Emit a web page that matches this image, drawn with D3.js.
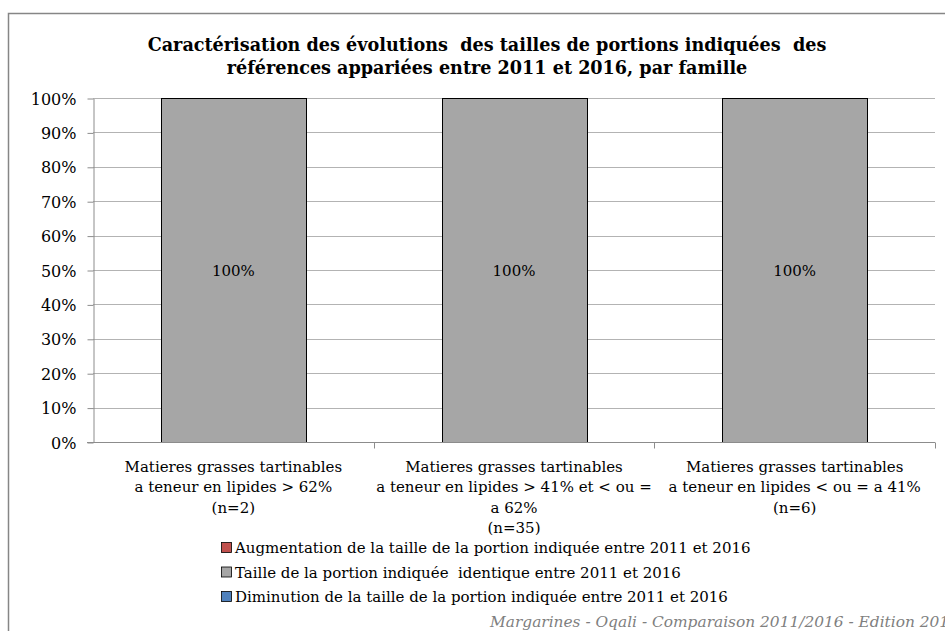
<!DOCTYPE html>
<html>
<head>
<meta charset="utf-8">
<script src="https://cdn.jsdelivr.net/npm/d3@7"></script>
<style>
  body { margin: 0; background: #fff; }
  svg { display: block; }
  text { white-space: pre; }
</style>
</head>
<body>
<div id="chart"></div>
<script>
// Frame dimensions
let FRAME_WIDTH = 945;
let FRAME_HEIGHT = 631;
let MARGINS = {left: 93, right: 10, top: 98, bottom: 189};

// data
const categories = ["cat1", "cat2", "cat3"];
const categoryLabels = [
    ["Matieres grasses tartinables", "a teneur en lipides > 62%", "(n=2)"],
    ["Matieres grasses tartinables", "a teneur en lipides > 41% et < ou =", "a 62%", "(n=35)"],
    ["Matieres grasses tartinables", "a teneur en lipides < ou = a 41%", "(n=6)"]
];
const seriesNames = [
    "Augmentation de la taille de la portion indiquée entre 2011 et 2016",
    "Taille de la portion indiquée  identique entre 2011 et 2016",
    "Diminution de la taille de la portion indiquée entre 2011 et 2016"
];
const augmentation = [0, 0, 0];
const identique = [100, 100, 100];
const diminution = [0, 0, 0];
const yTicks = [0, 10, 20, 30, 40, 50, 60, 70, 80, 90, 100];
const titleLines = [
    "Caractérisation des évolutions  des tailles de portions indiquées  des",
    "références appariées entre 2011 et 2016, par famille"
];
const footer = "Margarines - Oqali - Comparaison 2011/2016 - Edition 2017";

const COLORS = ["#c0504d", "#a6a6a6", "#4f81bd"];
const SERIF = "'DejaVu Serif', serif";

// build table for the stack
const table = categories.map((c, i) => ({
    cat: c, s0: augmentation[i], s1: identique[i], s2: diminution[i]
}));
const stacked = d3.stack().keys(["s0", "s1", "s2"])(table);

const SVG = d3.select("#chart")
    .append("svg")
    .attr("width", FRAME_WIDTH)
    .attr("height", FRAME_HEIGHT);

// outer chart border
SVG.append("rect")
    .attr("x", 8.5).attr("y", 13.5)
    .attr("width", 1000).attr("height", 700)
    .attr("fill", "#fff")
    .attr("stroke", "#868686")
    .attr("stroke-width", 1.5);

const PLOT_W = 935 - MARGINS.left;
const PLOT_H = FRAME_HEIGHT - MARGINS.top - MARGINS.bottom;

const X_SCALE = d3.scaleBand()
    .domain(categories)
    .range([MARGINS.left, MARGINS.left + PLOT_W])
    .paddingInner(0.484)
    .paddingOuter(0.242);

const Y_SCALE = d3.scaleLinear()
    .domain([0, 100])
    .range([MARGINS.top + PLOT_H, MARGINS.top]);

// gridlines
SVG.append("g")
    .selectAll("line")
    .data(yTicks.filter(d => d > 0))
    .enter()
    .append("line")
    .attr("x1", MARGINS.left).attr("x2", MARGINS.left + PLOT_W)
    .attr("y1", d => Math.round(Y_SCALE(d)) + 0.5)
    .attr("y2", d => Math.round(Y_SCALE(d)) + 0.5)
    .attr("stroke", "#b3b3b3");

// y axis
const yAxis = SVG.append("g")
    .attr("transform", "translate(" + (MARGINS.left + 0.5) + ",0.5)")
    .call(d3.axisLeft(Y_SCALE).tickValues(yTicks).tickFormat(d => d + "%")
        .tickSize(6).tickSizeOuter(0));
yAxis.select(".domain").attr("stroke", "#8c8c8c");
yAxis.selectAll(".tick line").attr("stroke", "#8c8c8c");
yAxis.selectAll(".tick text")
    .attr("x", -17)
    .attr("dy", "0.35em")
    .attr("font-family", SERIF)
    .attr("font-size", "16px")
    .attr("fill", "#000");

// bars
SVG.append("g")
    .selectAll("g")
    .data(stacked)
    .enter()
    .append("g")
    .attr("fill", (d, i) => COLORS[i])
    .selectAll("rect")
    .data(d => d)
    .enter()
    .append("rect")
    .attr("x", d => Math.round(X_SCALE(d.data.cat)) + 0.5)
    .attr("y", d => Math.round(Y_SCALE(d[1])) + 0.5)
    .attr("width", Math.round(X_SCALE.bandwidth()))
    .attr("height", d => Math.round(Y_SCALE(d[0]) - Y_SCALE(d[1])))
    .attr("stroke", d => (d[1] - d[0]) > 0 ? "#000" : "none")
    .attr("stroke-width", 1);

// data labels
SVG.append("g")
    .selectAll("text")
    .data(stacked[1])
    .enter()
    .append("text")
    .attr("x", d => X_SCALE(d.data.cat) + X_SCALE.bandwidth() / 2)
    .attr("y", d => (Y_SCALE(d[0]) + Y_SCALE(d[1])) / 2 + 6)
    .attr("text-anchor", "middle")
    .attr("font-family", SERIF)
    .attr("font-size", "15px")
    .text(d => (d[1] - d[0]) + "%");

// x axis line and category boundaries
const step = X_SCALE.step();
const y0 = Math.round(Y_SCALE(0)) + 0.5;
SVG.append("line")
    .attr("x1", MARGINS.left - 6).attr("x2", MARGINS.left + PLOT_W)
    .attr("y1", y0).attr("y2", y0)
    .attr("stroke", "#8c8c8c");
SVG.append("g")
    .selectAll("line")
    .data(categories)
    .enter()
    .append("line")
    .attr("x1", d => Math.round(X_SCALE(d) + X_SCALE.bandwidth() / 2 + step / 2) + 0.5)
    .attr("x2", d => Math.round(X_SCALE(d) + X_SCALE.bandwidth() / 2 + step / 2) + 0.5)
    .attr("y1", y0).attr("y2", y0 + 6)
    .attr("stroke", "#8c8c8c");

// category labels
SVG.append("g")
    .selectAll("text")
    .data(categories)
    .enter()
    .append("text")
    .attr("text-anchor", "middle")
    .attr("font-family", SERIF)
    .attr("font-size", "15px")
    .each(function(d, i) {
        const cx = X_SCALE(d) + X_SCALE.bandwidth() / 2;
        categoryLabels[i].forEach((line, j) => {
            d3.select(this).append("tspan")
                .attr("x", cx)
                .attr("y", 472 + j * 20.4)
                .text(line);
        });
    });

// title
SVG.append("text")
    .attr("text-anchor", "middle")
    .attr("font-family", SERIF)
    .attr("font-weight", "bold")
    .attr("font-size", "17.6px")
    .selectAll("tspan")
    .data(titleLines)
    .enter()
    .append("tspan")
    .attr("x", 487)
    .attr("y", (d, i) => 51 + i * 22.5)
    .text(d => d);

// legend
const legend = SVG.append("g")
    .selectAll("g")
    .data(seriesNames)
    .enter()
    .append("g")
    .attr("transform", (d, i) => "translate(221," + (553 + i * 24.5) + ")");
legend.append("rect")
    .attr("x", 0.5).attr("y", -10.5)
    .attr("width", 10).attr("height", 10)
    .attr("fill", (d, i) => COLORS[i])
    .attr("stroke", "#000")
    .attr("stroke-width", 0.8);
legend.append("text")
    .attr("x", 14)
    .attr("font-family", SERIF)
    .attr("font-size", "15px")
    .text(d => d);

// footer
SVG.append("text")
    .attr("x", 490)
    .attr("y", 627)
    .attr("font-family", SERIF)
    .attr("font-style", "italic")
    .attr("font-size", "15.4px")
    .attr("fill", "#7f7f7f")
    .text(footer);
</script>
</body>
</html>
